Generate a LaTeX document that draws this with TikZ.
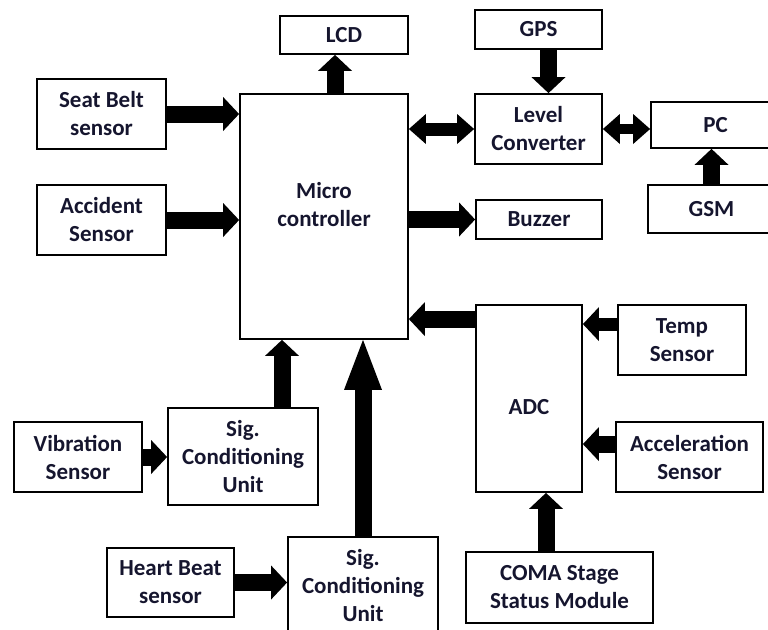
\documentclass[tikz,border=0pt]{standalone}
\usepackage{fontspec}
\setmainfont{Carlito}
\usepackage{tikz}
\usetikzlibrary{arrows.meta}
\definecolor{txtcol}{HTML}{15152E}
\tikzset{%
    blk/.style={draw, line width=1.8pt, align=center, inner sep=0pt,
        text=txtcol, font=\bfseries\fontsize{23}{28}\selectfont}
}

\begin{document}
\begin{tikzpicture}[
        x=1pt, y=-1pt,
        arr/.style={line width=17pt, -{Triangle[width=34pt,length=16pt,line width=0pt]}},
        bigarr/.style={line width=17pt, -{Triangle[width=38pt,length=50pt,line width=0pt]}},
        darr/.style={line width=13pt,
            {Triangle[width=30pt,length=17pt,line width=0pt]}-{Triangle[width=30pt,length=17pt,line width=0pt]}}
        ]
        \useasboundingbox (0,0) rectangle (768,629);
        \clip (0,0) rectangle (768,629);

        \node[blk, minimum width=168pt, minimum height=245pt, text depth=25pt] (mc) at (324,216.5) {Micro\\controller};
        \node[blk, minimum width=128pt, minimum height=38pt] (lcd) at (344,35) {LCD};
        \node[blk, minimum width=129pt, minimum height=70pt] (sb) at (101.5,114) {Seat Belt\\sensor};
        \node[blk, minimum width=129pt, minimum height=70pt] (accd) at (101.5,220) {Accident\\Sensor};
        \node[blk, minimum width=127pt, minimum height=39pt] (gps) at (538.5,29.5) {GPS};
        \node[blk, minimum width=127pt, minimum height=70pt] (lc) at (538.5,129) {Level\\Converter};
        \node[blk, minimum width=129pt, minimum height=46pt] (pc) at (715.5,125) {PC};
        \node[blk, minimum width=127pt, minimum height=48pt] (gsm) at (711.5,209) {GSM};
        \node[blk, minimum width=126pt, minimum height=39pt] (bz) at (539,219.5) {Buzzer};
        \node[blk, minimum width=106pt, minimum height=187pt, text height=33pt] (adc) at (529,398.5) {ADC};
        \node[blk, minimum width=128pt, minimum height=70pt] (temp) at (682,340) {Temp\\Sensor};
        \node[blk, minimum width=147pt, minimum height=70pt] (accl) at (689.5,457) {Acceleration\\Sensor};
        \node[blk, minimum width=187pt, minimum height=71pt] (coma) at (559.5,587.5) {COMA Stage\\Status Module};
        \node[blk, minimum width=128pt, minimum height=70pt] (vib) at (78,457) {Vibration\\Sensor};
        \node[blk, minimum width=150pt, minimum height=97pt] (scu1) at (243,456.5) {Sig.\\Conditioning\\Unit};
        \node[blk, minimum width=127pt, minimum height=69pt] (hb) at (170.5,582.5) {Heart Beat\\sensor};
        \node[blk, minimum width=150pt, minimum height=97pt] (scu2) at (363,585.5) {Sig.\\Conditioning\\Unit};

        \draw[arr] (sb.east) -- (sb.east -| mc.west);
        \draw[arr] (accd.east) -- (accd.east -| mc.west);
        \draw[arr] ([xshift=-9pt]lcd.south |- mc.north) -- ([xshift=-9pt]lcd.south);
        \draw[arr] ([xshift=10pt]gps.south) -- ([xshift=10pt]gps.south |- lc.north);
        \draw[darr] (mc.east |- lc.west) -- (lc.west);
        \draw[darr, line width=10pt] (lc.east) -- (lc.east -| pc.west);
        \draw[arr] (gsm.north) -- (gsm.north |- pc.south);
        \draw[arr] (mc.east |- bz.west) -- (bz.west);

        \draw[arr] ([yshift=-15pt]adc.north west) -- ([yshift=-15pt]adc.north west -| mc.east);
        \draw[arr, line width=13pt] ([yshift=-20pt]temp.north west) -- ([yshift=-20pt]temp.north west -| adc.east);
        \draw[arr] ([yshift=-23pt]accl.north west) -- ([yshift=-23pt]accl.north west -| adc.east);
        \draw[arr] ([xshift=17pt]adc.south |- coma.north) -- ([xshift=17pt]adc.south);

        \draw[arr] (vib.east) -- (vib.east -| scu1.west);
        \draw[arr] ([xshift=39pt]scu1.north) -- ([xshift=39pt]scu1.north |- mc.south);
        \draw[arr] (hb.east) -- (hb.east -| scu2.west);
        \draw[bigarr] (scu2.north) -- (scu2.north |- mc.south);
    \end{tikzpicture}
\end{document}
